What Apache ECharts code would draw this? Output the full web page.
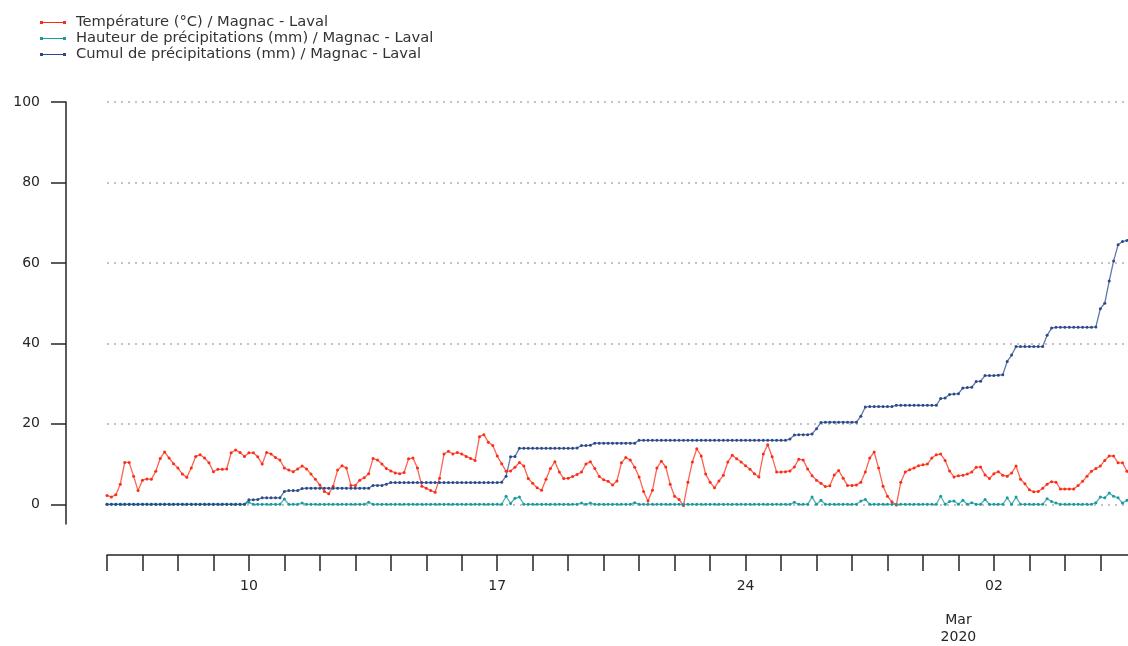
<!DOCTYPE html>
<html>
<head>
<meta charset="utf-8">
<script src="https://cdn.jsdelivr.net/npm/echarts@6.0.0/dist/echarts.min.js"></script>
<style>
    html, body { margin: 0; padding: 0; background: #fff; }
    #chart { width: 1128px; height: 646px; }
</style>
</head>
<body>
<div id="chart"></div>
<script>
// releves toutes les 3 heures a partir du 6 fevrier 2020, 00h
var startDate = new Date(2020, 1, 6);
var stepHours = 3;

var seriesNames = [
    'Température (°C) / Magnac - Laval',
    'Hauteur de précipitations (mm) / Magnac - Laval',
    'Cumul de précipitations (mm) / Magnac - Laval'
];

var temperature = [
    2.2, 1.8, 2.4, 5.0, 10.4, 10.4, 7.0, 3.4,
    6.0, 6.3, 6.2, 8.2, 11.4, 13.0, 11.5, 10.1,
    9.0, 7.5, 6.7, 9.0, 11.9, 12.3, 11.5, 10.3,
    8.1, 8.7, 8.7, 8.8, 12.8, 13.5, 12.9, 11.9,
    12.8, 12.8, 11.8, 10.0, 12.9, 12.5, 11.6, 11.0,
    9.0, 8.5, 8.1, 8.8, 9.5, 8.8, 7.5, 6.2,
    4.8, 3.2, 2.6, 4.5, 8.5, 9.6, 9.0, 4.7,
    4.7, 6.0, 6.6, 7.6, 11.4, 11.0, 10.0, 8.9,
    8.3, 7.8, 7.6, 7.9, 11.3, 11.5, 9.0, 4.5,
    4.0, 3.4, 3.0, 6.5, 12.5, 13.2, 12.5, 12.9,
    12.5, 11.9, 11.4, 10.9, 16.8, 17.3, 15.4, 14.6,
    12.0, 10.1, 8.2, 8.3, 9.2, 10.4, 9.5, 6.4,
    5.2, 4.1, 3.5, 6.2, 8.9, 10.6, 8.0, 6.4,
    6.5, 6.9, 7.4, 8.0, 10.0, 10.6, 8.9, 6.9,
    6.1, 5.7, 4.8, 5.8, 10.3, 11.6, 11.0, 9.2,
    6.8, 3.2, 0.8, 3.5, 9.0, 10.7, 9.3, 5.0,
    2.0, 1.2, -0.3, 5.5, 10.5, 13.8, 12.0, 7.5,
    5.5, 4.1, 5.8, 7.2, 10.5, 12.2, 11.3, 10.5,
    9.6, 8.7, 7.6, 6.8, 12.5, 14.8, 11.8, 8.0,
    8.0, 8.1, 8.3, 9.3, 11.2, 11.0, 8.8, 7.1,
    6.0, 5.2, 4.4, 4.6, 7.3, 8.4, 6.5, 4.7,
    4.7, 4.8, 5.5, 8.0, 11.5, 13.0, 9.0, 4.5,
    2.0, 0.6, -0.2, 5.5, 8.0, 8.6, 9.0, 9.6,
    9.8, 10.0, 11.5, 12.3, 12.5, 10.9, 8.3, 6.8,
    7.1, 7.2, 7.5, 8.0, 9.2, 9.3, 7.3, 6.4,
    7.6, 8.1, 7.2, 7.0, 7.8, 9.5, 6.2, 5.1,
    3.6, 3.1, 3.2, 4.0, 5.0, 5.6, 5.5, 3.8,
    3.8, 3.8, 3.8, 4.7, 5.7, 7.0, 8.2, 8.9,
    9.5, 10.9, 12.0, 12.0, 10.3, 10.3, 8.2, 7.8
];

var rainHeight = [
    0, 0, 0, 0, 0, 0, 0, 0,
    0, 0, 0, 0, 0, 0, 0, 0,
    0, 0, 0, 0, 0, 0, 0, 0,
    0, 0, 0, 0, 0, 0, 0, 0,
    0.5, 0, 0, 0, 0, 0, 0, 0,
    1.3, 0, 0, 0, 0.3, 0, 0, 0,
    0, 0, 0, 0, 0, 0, 0, 0,
    0, 0, 0, 0.5, 0, 0, 0, 0,
    0, 0, 0, 0, 0, 0, 0, 0,
    0, 0, 0, 0, 0, 0, 0, 0,
    0, 0, 0, 0, 0, 0, 0, 0,
    0, 0, 2.0, 0.2, 1.5, 1.8, 0, 0,
    0, 0, 0, 0, 0, 0, 0, 0,
    0, 0, 0, 0.3, 0, 0.3, 0, 0,
    0, 0, 0, 0, 0, 0, 0, 0.4,
    0, 0, 0, 0, 0, 0, 0, 0,
    0, 0, 0, 0, 0, 0, 0, 0,
    0, 0, 0, 0, 0, 0, 0, 0,
    0, 0, 0, 0, 0, 0, 0, 0,
    0, 0, 0, 0.5, 0, 0, 0, 1.8,
    0, 1.0, 0, 0, 0, 0, 0, 0,
    0, 0, 0.8, 1.2, 0, 0, 0, 0,
    0, 0, 0, 0, 0, 0, 0, 0,
    0, 0, 0, 0, 2.0, 0, 0.7, 0.8,
    0, 1.0, 0, 0.4, 0, 0, 1.2, 0,
    0, 0, 0, 1.6, 0, 1.8, 0, 0,
    0, 0, 0, 0, 1.4, 0.7, 0.3, 0,
    0, 0, 0, 0, 0, 0, 0, 0.4,
    1.8, 1.6, 2.8, 2.0, 1.6, 0.3, 1.0, 0.6
];

var rainCumul = [
    0, 0, 0, 0, 0, 0, 0, 0,
    0, 0, 0, 0, 0, 0, 0, 0,
    0, 0, 0, 0, 0, 0, 0, 0,
    0, 0, 0, 0, 0, 0, 0, 0,
    1.1, 1.1, 1.2, 1.6, 1.6, 1.6, 1.6, 1.6,
    3.2, 3.4, 3.4, 3.4, 3.9, 4.0, 4.0, 4.0,
    4.0, 4.0, 4.0, 4.0, 4.0, 4.0, 4.0, 4.0,
    4.0, 4.0, 4.0, 4.0, 4.7, 4.7, 4.7, 5.0,
    5.4, 5.4, 5.4, 5.4, 5.4, 5.4, 5.4, 5.4,
    5.4, 5.4, 5.4, 5.4, 5.4, 5.4, 5.4, 5.4,
    5.4, 5.4, 5.4, 5.4, 5.4, 5.4, 5.4, 5.4,
    5.4, 5.5, 7.0, 11.8, 11.9, 13.9, 13.9, 13.9,
    13.9, 13.9, 13.9, 13.9, 13.9, 13.9, 13.9, 13.9,
    13.9, 13.9, 14.0, 14.6, 14.6, 14.7, 15.2, 15.2,
    15.2, 15.2, 15.2, 15.2, 15.2, 15.2, 15.2, 15.2,
    15.9, 15.9, 15.9, 15.9, 15.9, 15.9, 15.9, 15.9,
    15.9, 15.9, 15.9, 15.9, 15.9, 15.9, 15.9, 15.9,
    15.9, 15.9, 15.9, 15.9, 15.9, 15.9, 15.9, 15.9,
    15.9, 15.9, 15.9, 15.9, 15.9, 15.9, 15.9, 15.9,
    15.9, 15.9, 16.2, 17.2, 17.3, 17.3, 17.3, 17.5,
    18.8, 20.3, 20.4, 20.4, 20.4, 20.4, 20.4, 20.4,
    20.4, 20.4, 21.9, 24.2, 24.3, 24.3, 24.3, 24.3,
    24.3, 24.3, 24.6, 24.6, 24.6, 24.6, 24.6, 24.6,
    24.6, 24.6, 24.6, 24.6, 26.3, 26.4, 27.3, 27.4,
    27.5, 28.9, 29.0, 29.1, 30.5, 30.6, 32.0, 32.0,
    32.0, 32.1, 32.2, 35.5, 37.1, 39.2, 39.2, 39.2,
    39.2, 39.2, 39.2, 39.2, 42.0, 43.8, 44.0, 44.0,
    44.0, 44.0, 44.0, 44.0, 44.0, 44.0, 44.0, 44.1,
    48.6, 50.0, 55.5, 60.5, 64.5, 65.3, 65.6, 66.0
];

var yTicks = [0, 20, 40, 60, 80, 100];
var monthNames = ['Jan', 'Feb', 'Mar', 'Apr', 'May', 'Jun', 'Jul', 'Aug', 'Sep', 'Oct', 'Nov', 'Dec'];

// x en jours depuis startDate
function toPoints(values) {
    var pts = [];
    for (var i = 0; i < values.length; i++) {
        pts.push([i * stepHours / 24, values[i]]);
    }
    return pts;
}

var dayTicks = [];
for (var d = 0; d <= 28; d++) {
    dayTicks.push(d);
}

function dayLabel(v) {
    var dt = new Date(startDate.getFullYear(), startDate.getMonth(), startDate.getDate() + Math.round(v));
    if (dt.getDate() === 1) {
        return '\n\n' + monthNames[dt.getMonth()] + '\n' + dt.getFullYear();
    }
    if (dt.getDay() === 1) {
        return (dt.getDate() < 10 ? '0' : '') + dt.getDate();
    }
    return '';
}

var axisColor = '#262626';
var font = 'DejaVu Sans';
// petit trait avec un point a chaque bout, comme la legende d'origine
var legendIcon = 'path://M0,0h3v3h-3Z M3,1h20v1h-20Z M23,0h3v3h-3Z';

function lineSeries(name, values, color) {
    return {
        name: name,
        type: 'line',
        data: toPoints(values),
        symbol: 'circle',
        symbolSize: 3,
        lineStyle: { color: color, width: 1.3, opacity: 0.75 },
        itemStyle: { color: color },
        emphasis: { disabled: true }
    };
}

var option = {
    animation: false,
    backgroundColor: '#fff',
    legend: {
        orient: 'vertical',
        left: 35,
        top: 10,
        icon: legendIcon,
        itemWidth: 26,
        itemHeight: 3,
        itemGap: 1,
        textStyle: { fontFamily: font, fontSize: 14.7, color: '#333', padding: [0, 0, 0, 5] },
        data: seriesNames
    },
    grid: {
        left: 107,
        right: 0,
        top: 102,
        bottom: 121
    },
    xAxis: {
        type: 'value',
        min: 0,
        max: 28.78,
        offset: 31,
        axisLine: { show: true, onZero: false, lineStyle: { color: axisColor, width: 1.5 } },
        axisTick: { show: true, length: 16, customValues: dayTicks, lineStyle: { color: axisColor, width: 1.5 } },
        axisLabel: {
            customValues: dayTicks,
            formatter: dayLabel,
            margin: 23,
            fontFamily: font,
            fontSize: 14,
            lineHeight: 17,
            color: axisColor
        },
        splitLine: { show: false }
    },
    yAxis: {
        type: 'value',
        min: -4.9,
        max: 100,
        offset: 41,
        axisLine: { show: true, onZero: false, lineStyle: { color: axisColor, width: 1.5 } },
        axisTick: { show: true, length: 15, customValues: yTicks, lineStyle: { color: axisColor, width: 1.5 } },
        axisLabel: { customValues: yTicks, margin: 26, fontFamily: font, fontSize: 14, color: axisColor },
        splitLine: { show: true, lineStyle: { color: '#b0b0b0', width: 1.5, type: [2, 5] } }
    },
    series: [
        lineSeries(seriesNames[0], temperature, '#fb2d17'),
        lineSeries(seriesNames[1], rainHeight, '#1a9a9e'),
        lineSeries(seriesNames[2], rainCumul, '#2b4a8b')
    ]
};

var chart = echarts.init(document.getElementById('chart'));
chart.setOption(option);
</script>
</body>
</html>
